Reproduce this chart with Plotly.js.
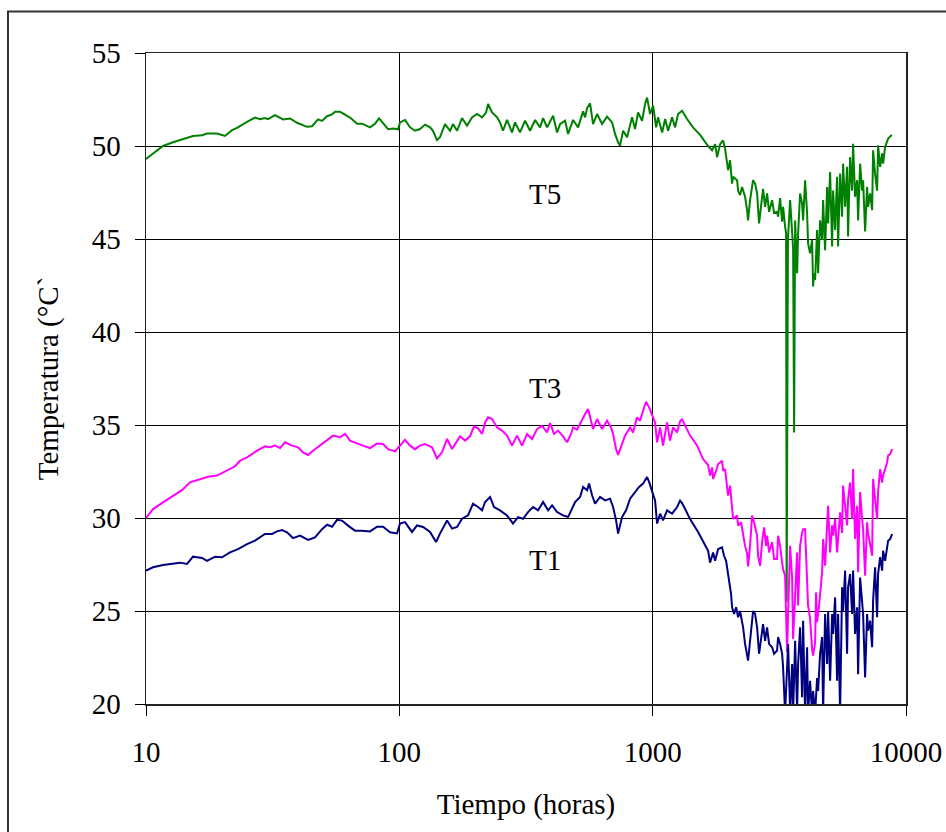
<!DOCTYPE html>
<html>
<head>
<meta charset="utf-8">
<script src="https://cdn.plot.ly/plotly-3.0.1.min.js"></script>
<style>
  html, body { margin: 0; padding: 0; background: #fff; }
  #chart { width: 946px; height: 832px; }
</style>
</head>
<body>
<div id="chart"></div>
<script>
// Temperature records (°C) against elapsed time (hours), log time axis.
const t5Hours = [10, 10.66, 11.67, 12.78, 14.0, 15.33, 16.64, 17.41, 19.07, 20.5, 21.86, 22.87, 25.05, 26.93, 28.19, 29.5, 30.32, 32.31, 34.75, 37.03, 39.46, 43.21, 45.22, 47.77, 49.53, 51.84, 54.25, 55.75, 58.34, 63.9, 68.08, 71.25, 76.6, 80.18, 83.18, 86.26, 90.26, 94.43, 98.83,
  100.6, 105.3, 110.2, 115.3, 120.7, 126.3, 132.2, 135.8, 140.8, 144.7, 151.5, 158.6, 162.9, 169.0, 176.8, 185.0, 193.6, 202.7, 212.1, 220.0, 224.0, 232.3, 243.2, 249.7, 256.6, 266.1, 278.5, 286.2, 299.5, 313.5, 328.1, 343.4, 359.4, 369.3, 383.0, 404.5, 419.5, 431.0, 451.1, 463.6, 485.2, 507.7, 531.3, 541.1, 550.9, 566.1, 581.8, 603.3, 631.2, 660.7, 691.5, 710.6, 730.3, 743.6, 764.2, 792.3, 829.3, 852.1, 875.8, 908.2, 933.3, 950.4, 976.8,
  1004, 1032, 1050, 1090, 1120, 1151, 1193, 1226, 1260, 1306, 1367, 1443, 1539, 1655, 1716, 1764, 1796, 1846, 1896, 1931, 1966, 1985, 2021, 2058, 2077, 2154, 2174, 2213, 2254, 2316, 2359, 2380, 2424, 2491, 2537, 2584, 2630, 2679, 2728, 2778, 2829, 2881, 2961, 3015, 3098, 3127, 3184, 3243, 3272, 3332, 3363, 3380, 3420, 3488, 3552, 3584, 3617, 3650, 3717, 3751, 3819, 3889, 3925, 3996, 4070, 4106, 4182, 4259, 4298, 4337, 4377, 4457, 4498, 4580, 4665, 4707, 4794, 4882, 4927, 5017, 5109, 5156, 5250, 5346, 5395, 5494, 5594, 5645, 5749, 5854, 5907, 6015, 6126, 6182, 6295, 6412, 6470, 6589, 6710, 6771, 6895, 7022, 7086, 7216, 7349, 7416, 7551, 7690, 7760, 7903, 8048, 8121, 8271, 8423, 8500, 8735, 8815];
const t5Temp = [49.3, 49.6, 50.0, 50.2, 50.36, 50.54, 50.58, 50.67, 50.67, 50.54, 50.85, 50.97, 51.3, 51.53, 51.44, 51.5, 51.44, 51.66, 51.43, 51.48, 51.25, 51.03, 51.06, 51.43, 51.35, 51.6, 51.7, 51.84, 51.84, 51.53, 51.2, 51.2, 51.0, 51.2, 51.48, 51.2, 50.9, 50.94, 50.9,
  51.27, 51.4, 51.0, 50.82, 50.91, 51.15, 51.0, 50.82, 50.32, 50.47, 51.18, 50.82, 51.18, 50.82, 51.5, 51.1, 51.54, 51.72, 51.54, 51.8, 52.26, 51.8, 51.54, 51.27, 50.82, 51.4, 50.73, 51.27, 50.73, 51.36, 50.82, 51.4, 51.0, 51.5, 51.0, 51.63, 50.73, 51.18, 51.36, 50.65, 51.4, 51.0, 51.86, 51.54, 52.04, 52.29, 51.18, 51.72, 51.18, 51.58, 51.27, 50.65, 50.2, 50.02, 50.82, 50.47, 51.54, 50.91, 51.8, 51.36, 52.26, 52.6, 51.72,
  52.17, 51.0, 51.54, 50.73, 51.45, 50.82, 51.54, 51.0, 51.72, 51.9, 51.45, 51.0, 50.6, 50.0, 49.77, 50.1, 49.4, 50.1, 50.3, 49.86, 49.23, 48.7, 49.23, 47.98, 48.34, 48.16, 47.6, 47.36, 47.8, 47.27, 46.55, 46.0, 47.09, 48.16, 47.98, 47.45, 45.84, 46.73, 47.7, 46.73, 47.45, 46.46, 47.09, 46.4, 46.46, 46.2, 47.2, 45.93, 46.73, 45.66, 45.3, 25.5, 45.0, 47.09, 45.48, 44.5, 34.6, 46.0, 43.16, 45.3, 47.45, 46.9, 46.0, 48.16, 46.4, 44.77, 44.23, 44.95, 42.45, 43.16, 42.8, 45.48, 43.16, 46.0, 44.95, 47.09, 44.4, 47.8, 45.84, 48.6, 44.6, 47.6, 45.48, 48.34, 44.6, 48.52, 46.2, 49.05, 46.73, 48.88, 45.13, 49.4, 47.6, 50.12, 47.27, 48.16, 46.0, 49.05, 47.6, 48.16, 45.4, 47.8, 46.73, 47.45, 46.55, 49.77, 48.5, 47.6, 50.04, 48.88, 49.6, 49.05, 49.95, 50.3, 50.4, 50.57, 50.57];

const t3Hours = [10, 10.66, 11.67, 12.78, 13.87, 14.92, 16.05, 17.57, 19.07, 20.88, 22.46, 23.5, 25.05, 27.43, 29.5, 30.87, 32.31, 33.81, 35.38, 37.71, 39.82, 41.67, 43.61, 45.62, 48.64, 51.84, 54.74, 58.34, 61.05, 63.9, 68.08, 71.9, 76.6, 81.66, 86.26, 90.26, 96.16,
  100.6, 105.3, 110.2, 115.3, 120.7, 126.3, 134.6, 140.8, 147.4, 154.3, 161.5, 166.0, 173.7, 181.7, 190.1, 197.2, 204.5, 212.1, 218.0, 224.0, 232.3, 243.2, 254.3, 266.1, 278.5, 291.5, 305.0, 319.3, 334.2, 349.7, 366.0, 383.0, 393.6, 408.2, 423.3, 443.0, 459.4, 476.4, 485.2, 503.1, 526.5, 541.1, 555.9, 571.3, 581.8, 603.3, 631.2, 660.7, 685.2, 697.8, 717.1, 730.3, 757.3, 778.0, 814.3, 836.8, 867.8, 891.9, 916.5, 941.9, 967.9, 994.7,
  1022, 1041, 1070, 1099, 1140, 1171, 1204, 1249, 1283, 1306, 1405, 1497, 1581, 1655, 1685, 1716, 1732, 1780, 1813, 1879, 1896, 1931, 1966, 1985, 2021, 2058, 2077, 2154, 2174, 2234, 2275, 2316, 2359, 2380, 2424, 2468, 2514, 2584, 2607, 2655, 2703, 2753, 2803, 2829, 2881, 2961, 3015, 3098, 3127, 3184, 3243, 3272, 3332, 3363, 3393, 3425, 3488, 3552, 3584, 3650, 3717, 3751, 3819, 3889, 3925, 3996, 4033, 4070, 4106, 4182, 4220, 4259, 4298, 4377, 4416, 4457, 4539, 4665, 4707, 4794, 4882, 4927, 5017, 5109, 5156, 5250, 5346, 5395, 5494, 5594, 5645, 5749, 5854, 5907, 6015, 6126, 6182, 6295, 6412, 6470, 6589, 6710, 6771, 6895, 7022, 7086, 7216, 7349, 7416, 7551, 7690, 7760, 7903, 8048, 8121, 8271, 8423, 8500, 8656, 8815];
const t3Temp = [30.0, 30.48, 30.84, 31.2, 31.5, 31.92, 32.04, 32.22, 32.28, 32.54, 32.78, 33.08, 33.26, 33.62, 33.85, 33.8, 33.89, 33.76, 34.07, 33.89, 33.8, 33.53, 33.39, 33.62, 33.89, 34.16, 34.43, 34.34, 34.52, 34.16, 34.0, 33.89, 33.76, 34.0, 33.98, 33.7, 33.58,
  33.9, 34.2, 33.89, 33.7, 33.89, 33.98, 33.8, 33.2, 33.53, 34.25, 33.71, 33.98, 34.39, 34.16, 34.39, 34.93, 34.82, 34.52, 35.14, 35.41, 35.32, 34.87, 34.7, 34.43, 33.89, 34.43, 33.89, 34.52, 34.25, 34.78, 34.96, 34.6, 35.1, 34.52, 34.7, 34.39, 34.07, 34.52, 34.87, 34.75, 35.32, 35.59, 35.86, 35.23, 34.78, 35.32, 34.78, 35.23, 34.87, 34.52, 33.71, 33.39, 33.98, 34.43, 34.87, 34.6, 35.41, 35.23, 35.77, 36.25, 35.95, 35.5,
  35.14, 34.07, 34.87, 33.89, 35.14, 34.16, 34.87, 34.6, 35.2, 35.3, 34.43, 33.9, 33.17, 32.85, 32.28, 32.72, 32.1, 32.54, 32.9, 33.08, 32.54, 32.63, 31.74, 31.2, 31.74, 30.3, 29.95, 30.13, 29.59, 29.77, 29.05, 28.5, 28.1, 27.4, 28.5, 30.13, 29.77, 29.05, 27.97, 27.43, 28.7, 29.5, 28.5, 29.05, 28.15, 28.7, 27.8, 27.8, 29.05, 28.5, 27.6, 27.26, 26.9, 24.2, 22.8, 24.9, 28.5, 26.75, 23.5, 25.8, 28.15, 25.3, 28.5, 29.2, 29.4, 29.4, 28.15, 26.4, 25.3, 24.6, 23.5, 22.96, 22.6, 23.3, 26.0, 24.4, 25.3, 27.08, 28.87, 27.44, 29.6, 30.66, 28.15, 29.6, 29.05, 29.95, 28.15, 29.05, 30.3, 29.2, 31.74, 30.66, 29.6, 31.0, 31.9, 29.95, 32.63, 28.87, 30.66, 27.08, 31.4, 29.95, 29.4, 26.9, 29.77, 29.2, 28.5, 27.97, 32.1, 31.0, 29.95, 31.4, 32.63, 31.9, 32.3, 32.63, 33.0, 33.35, 33.44, 33.7];

const t1Hours = [10, 10.66, 11.67, 12.78, 13.62, 14.52, 15.33, 16.64, 17.41, 18.73, 19.95, 21.46, 23.08, 25.05, 26.93, 29.5, 31.44, 32.9, 34.43, 36.04, 38.05, 40.55, 43.61, 46.46, 49.53, 51.84, 54.25, 56.77, 59.41, 62.74, 66.86, 71.25, 76.6, 81.66, 86.26, 91.9, 97.93,
  100.6, 105.3, 112.2, 117.5, 124.1, 132.2, 139.6, 144.7, 154.3, 161.5, 169.0, 176.8, 186.7, 195.4, 204.5, 212.1, 218.0, 228.1, 236.6, 249.7, 266.1, 281.0, 294.1, 307.8, 322.2, 337.2, 352.9, 369.3, 386.5, 400.9, 419.5, 443.0, 463.6, 480.8, 494.1, 517.0, 531.3, 550.9, 561.0, 576.5, 592.4, 619.9, 648.8, 679.0, 697.8, 717.1, 730.3, 757.3, 785.2, 814.3, 852.1, 883.7, 916.5, 950.4, 967.9, 994.7,
  1022, 1041, 1070, 1099, 1140, 1193, 1249, 1283, 1306, 1342, 1405, 1511, 1610, 1655, 1685, 1732, 1764, 1813, 1879, 1913, 1949, 1985, 2002, 2040, 2058, 2096, 2135, 2174, 2213, 2254, 2275, 2316, 2359, 2380, 2424, 2468, 2491, 2537, 2584, 2630, 2679, 2728, 2778, 2829, 2881, 2961, 3015, 3098, 3127, 3184, 3243, 3272, 3332, 3393, 3425, 3488, 3552, 3584, 3650, 3717, 3751, 3819, 3889, 3925, 3996, 4070, 4106, 4182, 4259, 4298, 4377, 4457, 4498, 4580, 4665, 4707, 4794, 4882, 4927, 5017, 5109, 5156, 5250, 5346, 5395, 5494, 5594, 5645, 5749, 5854, 5907, 6015, 6126, 6182, 6295, 6412, 6470, 6589, 6710, 6771, 6895, 7022, 7086, 7216, 7349, 7416, 7551, 7690, 7760, 7903, 8048, 8121, 8271, 8423, 8500, 8656, 8815];
const t1Temp = [27.17, 27.35, 27.47, 27.56, 27.6, 27.53, 27.92, 27.85, 27.7, 27.92, 27.89, 28.15, 28.33, 28.6, 28.78, 29.14, 29.14, 29.28, 29.35, 29.23, 28.92, 29.05, 28.82, 28.96, 29.4, 29.64, 29.53, 29.9, 29.86, 29.59, 29.32, 29.32, 29.28, 29.53, 29.53, 29.23, 29.17,
  29.7, 29.78, 29.25, 29.6, 29.52, 29.25, 28.71, 29.16, 29.87, 29.43, 29.52, 29.96, 30.14, 30.77, 30.59, 30.41, 30.86, 31.13, 30.59, 30.41, 30.14, 29.7, 30.05, 29.96, 30.32, 30.59, 30.41, 30.86, 30.41, 30.68, 30.32, 30.14, 30.05, 30.5, 30.86, 31.13, 31.67, 31.49, 31.85, 31.22, 30.77, 31.13, 30.95, 31.04, 30.59, 29.87, 29.16, 30.05, 30.41, 31.04, 31.4, 31.67, 31.85, 32.2, 31.94, 31.49,
  30.95, 29.7, 30.23, 29.87, 30.41, 30.23, 30.59, 30.93, 30.8, 30.5, 29.95, 29.25, 28.6, 28.24, 27.6, 28.15, 27.7, 28.33, 28.42, 27.97, 27.7, 27.0, 26.45, 25.9, 25.2, 24.84, 25.2, 24.66, 25.0, 24.48, 24.12, 23.23, 22.7, 22.33, 23.4, 24.48, 25.0, 24.84, 24.12, 22.7, 23.6, 24.3, 23.4, 24.12, 23.23, 23.05, 22.7, 22.87, 23.6, 23.23, 22.7, 21.97, 19.5, 21.6, 23.23, 19.6, 22.15, 19.5, 23.4, 19.6, 22.15, 24.12, 20.36, 24.48, 19.5, 23.05, 19.5, 21.25, 19.5, 20.7, 19.5, 21.4, 20.7, 22.7, 23.6, 19.5, 24.84, 22.15, 25.0, 21.25, 24.84, 23.77, 25.73, 21.25, 24.84, 19.5, 26.27, 25.0, 27.17, 22.7, 26.27, 26.98, 24.84, 27.17, 23.77, 25.2, 21.6, 26.8, 25.37, 24.84, 21.43, 24.84, 23.95, 24.48, 23.05, 25.56, 27.35, 24.66, 27.0, 27.9, 27.17, 28.24, 27.7, 28.42, 28.78, 28.87, 29.14];

const seriesNames = ["T5", "T3", "T1"];
const seriesColors = ["#008000", "#ff00ff", "#000080"];
// label anchor points: [log10(hours), °C]
const labelX = [2.575, 2.575, 2.575];
const labelY = [47.4, 37.0, 27.75];

const xTicks = [10, 100, 1000, 10000];
const xTickText = ["10", "100", "1000", "10000"];
const yTicks = [20, 25, 30, 35, 40, 45, 50, 55];

const FONT = "'Liberation Serif', 'Times New Roman', serif";

const hoursList = [t5Hours, t3Hours, t1Hours];
const tempList = [t5Temp, t3Temp, t1Temp];

const traces = seriesNames.map((name, i) => ({
  type: "scatter",
  mode: "lines",
  name: name,
  x: hoursList[i],
  y: tempList[i],
  line: { color: seriesColors[i], width: 2 },
  hoverinfo: "x+y+name"
}));

const annotations = seriesNames.map((name, i) => ({
  x: labelX[i], y: labelY[i], xref: "x", yref: "y",
  text: name, showarrow: false,
  font: { family: FONT, size: 29, color: "#000" }
}));

const layout = {
  width: 946, height: 832,
  margin: { l: 146, r: 40, t: 53, b: 128 },
  paper_bgcolor: "#fff", plot_bgcolor: "#fff",
  showlegend: false,
  font: { family: FONT, size: 29, color: "#000" },
  xaxis: {
    type: "log",
    range: [1, 4],
    tickvals: xTicks, ticktext: xTickText,
    ticks: "outside", ticklen: 10, tickcolor: "#000", tickwidth: 1,
    ticklabelstandoff: 12,
    showgrid: true, gridcolor: "#000", gridwidth: 1,
    showline: true, linecolor: "#222", linewidth: 1.5, mirror: true,
    zeroline: false,
    tickfont: { family: FONT, size: 29, color: "#000" },
    title: { text: "Tiempo (horas)", font: { family: FONT, size: 29, color: "#000" }, standoff: 26 }
  },
  yaxis: {
    range: [20, 55],
    tickvals: yTicks,
    ticks: "outside", ticklen: 10, tickcolor: "#000", tickwidth: 1,
    ticklabelstandoff: 8,
    showgrid: true, gridcolor: "#000", gridwidth: 1,
    showline: true, linecolor: "#222", linewidth: 1.5, mirror: true,
    zeroline: false,
    tickfont: { family: FONT, size: 29, color: "#000" },
    title: { text: "Temperatura (°C`", font: { family: FONT, size: 29, color: "#000" }, standoff: 24 }
  },
  annotations: annotations,
  shapes: [{
    type: "rect", xref: "paper", yref: "paper",
    x0: -0.1816, x1: 1.2, y0: -0.3, y1: 1.0637,
    line: { color: "#333", width: 2 }, fillcolor: "rgba(0,0,0,0)", layer: "below"
  }]
};

Plotly.newPlot("chart", traces, layout, { displayModeBar: false, staticPlot: true });
</script>
</body>
</html>
